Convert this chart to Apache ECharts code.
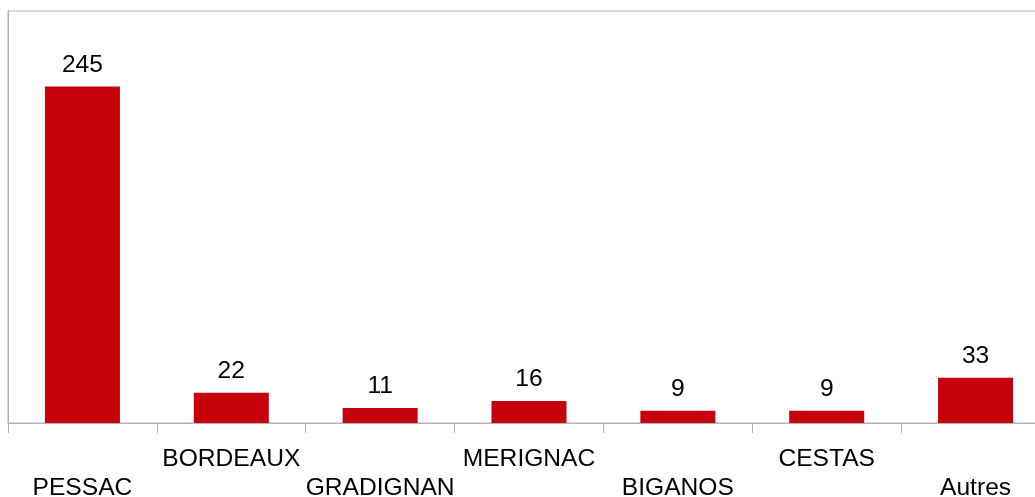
<!DOCTYPE html>
<html>
<head>
<meta charset="utf-8">
<script src="https://cdn.jsdelivr.net/npm/echarts@6/dist/echarts.min.js"></script>
<style>
html,body{margin:0;padding:0;background:#fff;overflow:hidden;}
#chart{width:1035px;height:497px;}
</style>
</head>
<body>
<div id="chart"></div>
<script>
const categories = ['PESSAC','BORDEAUX','GRADIGNAN','MERIGNAC','BIGANOS','CESTAS','Autres'];
const values = [245, 22, 11, 16, 9, 9, 33];

const chart = echarts.init(document.getElementById('chart'), null, {renderer:'canvas'});
chart.setOption({
  animation:false,
  backgroundColor:'#ffffff',
  grid:{left:8, top:11, width:1042, height:412, show:true, borderColor:'#b3b3b3', borderWidth:1, containLabel:false, outerBoundsMode:'none'},
  xAxis:{
    type:'category',
    data:categories,
    boundaryGap:true,
    axisLine:{show:true, lineStyle:{color:'#b3b3b3', width:1}},
    axisTick:{show:true, length:10, alignWithLabel:false, lineStyle:{color:'#b3b3b3'}},
    axisLabel:{
      interval:0,
      margin:21,
      fontFamily:'Liberation Sans',
      fontSize:24.6,
      lineHeight:29.5,
      color:'#000',
      hideOverlap:false,
      formatter:(v, i) => (i % 2 === 0 ? '\n' + v : v)
    }
  },
  yAxis:{
    type:'value',
    min:0, max:300,
    axisLine:{show:true, lineStyle:{color:'#b3b3b3'}},
    axisTick:{show:false},
    axisLabel:{show:false},
    splitLine:{show:false}
  },
  series:[{
    type:'bar',
    data:values,
    barWidth:75,
    itemStyle:{color:'#c5000b'},
    label:{show:true, position:'top', distance:9, fontFamily:'Liberation Sans', fontSize:24.6, color:'#000'}
  }]
});
</script>
</body>
</html>
